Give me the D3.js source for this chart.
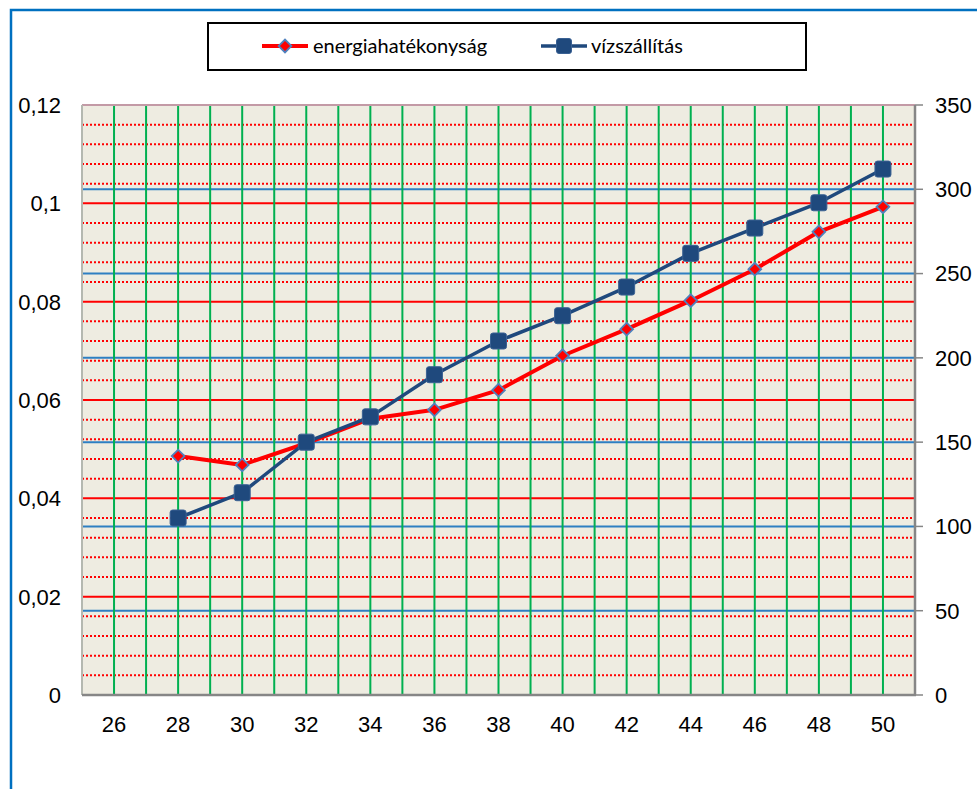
<!DOCTYPE html>
<html>
<head>
<meta charset="utf-8">
<script src="https://cdn.jsdelivr.net/npm/d3@7"></script>
<style>
  html, body { margin: 0; padding: 0; background: #fff; }
  svg { display: block; }
</style>
</head>
<body>
<svg id="chart" width="977" height="789"></svg>
<script>
// Series: energy efficiency (left axis) and water delivery (right axis)
const xValues = [28, 30, 32, 34, 36, 38, 40, 42, 44, 46, 48, 50];
const energiahatekonysag = [0.0486, 0.0468, 0.0512, 0.0562, 0.0580, 0.0620, 0.0690, 0.0744, 0.0802, 0.0866, 0.0942, 0.0993];
const vizszallitas = [105, 120, 150, 165, 190, 210, 225, 242, 262, 277, 292, 312];

const xTickLabels = [26, 28, 30, 32, 34, 36, 38, 40, 42, 44, 46, 48, 50];
const leftTicks = [0, 0.02, 0.04, 0.06, 0.08, 0.1, 0.12];
const rightTicks = [0, 50, 100, 150, 200, 250, 300, 350];
const seriesNames = ["energiahatékonyság", "vízszállítás"];

const svg = d3.select("#chart");
const plot = { left: 82, right: 915, top: 105, bottom: 695 };

const x = d3.scaleLinear().domain([25, 51]).range([plot.left, plot.right]);
const yL = d3.scaleLinear().domain([0, 0.12]).range([plot.bottom, plot.top]);
const yR = d3.scaleLinear().domain([0, 350]).range([plot.bottom, plot.top]);

// outer frame
svg.append("rect")
  .attr("x", 11).attr("y", 10).attr("width", 1000).attr("height", 1000)
  .attr("fill", "none").attr("stroke", "#0070C0").attr("stroke-width", 2.5);

// plot background
svg.append("rect")
  .attr("x", plot.left).attr("y", plot.top)
  .attr("width", plot.right - plot.left).attr("height", plot.bottom - plot.top)
  .attr("fill", "#EEECE1");

const grid = svg.append("g");

// minor left-axis gridlines (dotted red)
const minor = [];
for (let i = 0; i < leftTicks.length - 1; i++) {
  const a = leftTicks[i], b = leftTicks[i + 1];
  for (let k = 1; k < 5; k++) minor.push(a + (b - a) * k / 5);
}
grid.selectAll("line.minor").data(minor).join("line")
  .attr("x1", plot.left).attr("x2", plot.right)
  .attr("y1", d => yL(d)).attr("y2", d => yL(d))
  .attr("stroke", "#FF0000").attr("stroke-width", 2)
  .attr("stroke-dasharray", "2,2");

// major left-axis gridlines (solid red)
grid.selectAll("line.majorL").data(leftTicks.filter(d => d > 0)).join("line")
  .attr("x1", plot.left).attr("x2", plot.right)
  .attr("y1", d => yL(d)).attr("y2", d => yL(d))
  .attr("stroke", "#FF0000").attr("stroke-width", 2);

// right-axis gridlines (blue)
grid.selectAll("line.majorR").data(rightTicks.filter(d => d > 0)).join("line")
  .attr("x1", plot.left).attr("x2", plot.right)
  .attr("y1", d => yR(d)).attr("y2", d => yR(d))
  .attr("stroke", d => d === 350 ? "#C39AA6" : "#2E7FC2").attr("stroke-width", 2);

// vertical gridlines at every category (green)
const xDom = x.domain();
grid.selectAll("line.vert").data(d3.range(xDom[0] + 1, xDom[1])).join("line")
  .attr("x1", d => x(d)).attr("x2", d => x(d))
  .attr("y1", plot.top + 1).attr("y2", plot.bottom)
  .attr("stroke", "#00B050").attr("stroke-width", 2);

// axis lines
svg.append("line")
  .attr("x1", plot.left).attr("x2", plot.left)
  .attr("y1", plot.top).attr("y2", plot.bottom)
  .attr("stroke", "#B4B8B0").attr("stroke-width", 2);
svg.append("line")
  .attr("x1", plot.left).attr("x2", plot.right + 1)
  .attr("y1", plot.bottom).attr("y2", plot.bottom)
  .attr("stroke", "#868686").attr("stroke-width", 2.5);
svg.append("line")
  .attr("x1", plot.right).attr("x2", plot.right)
  .attr("y1", plot.top).attr("y2", plot.bottom)
  .attr("stroke", "#868686").attr("stroke-width", 2.5);

// right axis ticks
svg.selectAll("line.rtick").data(rightTicks).join("line")
  .attr("x1", plot.right).attr("x2", plot.right + 8)
  .attr("y1", d => yR(d)).attr("y2", d => yR(d))
  .attr("stroke", "#868686").attr("stroke-width", 1.5);

const axisFont = "'Liberation Sans', Arial, sans-serif";

// left axis labels
const fmtComma = d => String(d).replace(".", ",");
svg.selectAll("text.lab").data(leftTicks).join("text")
  .attr("x", 61).attr("y", d => yL(d))
  .attr("dy", "0.36em")
  .attr("text-anchor", "end")
  .attr("font-family", axisFont).attr("font-size", 22)
  .text(fmtComma);

// right axis labels
svg.selectAll("text.rab").data(rightTicks).join("text")
  .attr("x", 935).attr("y", d => yR(d))
  .attr("dy", "0.36em")
  .attr("text-anchor", "start")
  .attr("font-family", axisFont).attr("font-size", 22)
  .text(d => d);

// bottom axis labels
svg.selectAll("text.xlab").data(xTickLabels).join("text")
  .attr("x", d => x(d)).attr("y", 732)
  .attr("text-anchor", "middle")
  .attr("font-family", axisFont).attr("font-size", 22)
  .text(d => d);

// series
const redLine = d3.line().x((d, i) => x(xValues[i])).y(d => yL(d));
const blueLine = d3.line().x((d, i) => x(xValues[i])).y(d => yR(d));

function diamond(g, cx, cy, s) {
  g.append("rect")
    .attr("x", -s / 2).attr("y", -s / 2).attr("width", s).attr("height", s)
    .attr("transform", `translate(${cx},${cy}) rotate(45)`)
    .attr("fill", "#FF0000").attr("stroke", "#4F81BD").attr("stroke-width", 1.8);
}
function square(g, cx, cy, s) {
  g.append("rect")
    .attr("x", cx - s / 2).attr("y", cy - s / 2).attr("width", s).attr("height", s)
    .attr("rx", 2.5)
    .attr("fill", "#1F497D").attr("stroke", "#3A6193").attr("stroke-width", 1);
}

const gRed = svg.append("g");
gRed.append("path").datum(energiahatekonysag)
  .attr("d", redLine).attr("fill", "none")
  .attr("stroke", "#FF0000").attr("stroke-width", 4).attr("stroke-linejoin", "round");
energiahatekonysag.forEach((v, i) => diamond(gRed, x(xValues[i]), yL(v), 9));

const gBlue = svg.append("g");
gBlue.append("path").datum(vizszallitas)
  .attr("d", blueLine).attr("fill", "none")
  .attr("stroke", "#1F497D").attr("stroke-width", 3.5).attr("stroke-linejoin", "round");
vizszallitas.forEach((v, i) => square(gBlue, x(xValues[i]), yR(v), 16));

// legend
const lg = svg.append("g");
lg.append("rect")
  .attr("x", 208).attr("y", 23).attr("width", 598).attr("height", 47)
  .attr("fill", "#fff").attr("stroke", "#000").attr("stroke-width", 2);
const legendFont = "Lato, 'Open Sans', sans-serif";
const ly = 46;
lg.append("line").attr("x1", 262).attr("x2", 308).attr("y1", ly).attr("y2", ly)
  .attr("stroke", "#FF0000").attr("stroke-width", 4);
diamond(lg, 285, ly, 9);
lg.append("text").attr("x", 313).attr("y", ly).attr("dy", "0.35em")
  .attr("font-family", legendFont).attr("font-size", 20).text(seriesNames[0]);
lg.append("line").attr("x1", 541).attr("x2", 587).attr("y1", ly).attr("y2", ly)
  .attr("stroke", "#1F497D").attr("stroke-width", 3.5);
square(lg, 564, ly, 15);
lg.append("text").attr("x", 591).attr("y", ly).attr("dy", "0.35em")
  .attr("font-family", legendFont).attr("font-size", 20).text(seriesNames[1]);
</script>
</body>
</html>
